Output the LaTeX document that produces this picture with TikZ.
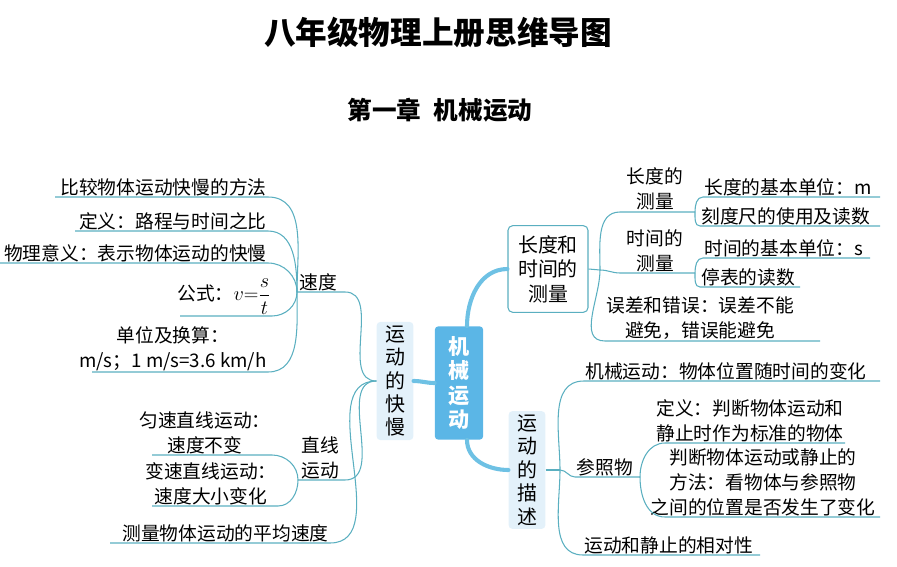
\documentclass[tikz,border=0pt]{standalone}
\usepackage{fontspec}
\usepackage{amsmath}
\setmainfont{Noto Sans CJK SC}
\usetikzlibrary{positioning,calc}
\definecolor{branch}{HTML}{5AAFC0}
\definecolor{thickblue}{HTML}{6EC1E4}
\definecolor{centerfill}{HTML}{5BB6E6}
\definecolor{boxfill}{HTML}{E3F1FA}

\begin{document}
\begin{tikzpicture}[x=0.03cm,y=-0.03cm,
      leaf/.style={inner sep=1pt,font=\fontsize{16}{21}\selectfont,align=center},
      leafL/.style={leaf,anchor=south east},
      leafR/.style={leaf,anchor=south west},
      br/.style={draw=branch,line width=0.9pt},
      thick branch/.style={draw=thickblue,line width=3.5pt,line cap=round},
      vbox/.style={rectangle,rounded corners=3pt,fill=boxfill,align=center,
        inner sep=3pt,font=\fontsize{17}{20}\selectfont},
    ]
    \useasboundingbox (0,0) rectangle (897,567);
    % Titles
    \node[font=\fontsize{27}{30}\selectfont\bfseries] (title) at (438,32) {八年级物理上册思维导图};
    \node[font=\fontsize{21}{24}\selectfont\bfseries] (chap) at (440,110) {第一章\enspace 机械运动};

    % Central and main boxes
    \node[rectangle,rounded corners=3pt,fill=centerfill,text=white,align=center,
      minimum width=1.45cm,minimum height=3.4cm,font=\fontsize{18}{21}\selectfont\bfseries]
      (center) at (459,383) {机\\械\\运\\动};
    \node[vbox,minimum width=1.1cm,minimum height=3.35cm] (speed) at (395,381) {运\\动\\的\\快\\慢};
    \node[rectangle,rounded corners=4pt,draw=branch,fill=white,align=center,line width=0.9pt,
      minimum width=2.4cm,minimum height=2.6cm,font=\fontsize{17}{21}\selectfont]
      (meas) at (548,269) {长度和\\时间的\\测量};
    \node[vbox,minimum width=1.1cm,minimum height=3.3cm] (desc) at (527,470) {运\\动\\的\\描\\述};

    \draw[thick branch] (center.west) to[out=180,in=0] (speed.east);
    \draw[thick branch] ($(center.north)+(8,0)$) to[out=90,in=180] (meas.west);
    \draw[thick branch] ($(center.south)+(8,0)$) to[out=-90,in=180] (desc.west);

    % Left: speed
    \node[leaf,anchor=south west] (sd) at (298,292) {速度};
    \draw[br] (speed.west) to[out=180,in=0] (345,292) -- (297,292);
    \coordinate (js) at (297,292);
    \node[leafL] (s1) at (268,197) {比较物体运动快慢的方法};
    \node[leafL] (s2) at (268,231) {定义：路程与时间之比};
    \node[leafL] (s3) at (268,263) {物理意义：表示物体运动的快慢};
    \node[leafL] (s4) at (272,316) {公式：$v{=}\dfrac{s}{t}$};
    \node[leafL] (s5) at (268,372) {单位及换算：\\m/s；1 m/s=3.6 km/h};
    \draw[br] (js) to[out=90,in=0] (s1.south east) -- (55,197);
    \draw[br] (js) to[out=90,in=0] (s2.south east) -- (75,231);
    \draw[br] (js) to[out=90,in=0] (s3.south east) -- (0,263);
    \draw[br] (js) to[out=-90,in=0] (s4.south east) -- (180,316);
    \draw[br] (js) to[out=-90,in=0] (s5.south east) -- (92,372);

    % Left: linear motion
    \node[leaf,anchor=south west] (lin) at (300,480) {直线\\运动};
    \draw[br] (speed.west) to[out=180,in=0] (345,480) -- (298,480);
    \coordinate (jl) at (298,480);
    \node[leafL] (l1) at (272,455) {匀速直线运动：\\速度不变};
    \node[leafL] (l2) at (278,506) {变速直线运动：\\速度大小变化};
    \draw[br] (jl) to[out=90,in=0] (l1.south east) -- (152,455);
    \draw[br] (jl) to[out=-90,in=0] (l2.south east) -- (152,506);
    \node[leafL] (avg) at (330,543) {测量物体运动的平均速度};
    \draw[br] (speed.west) to[out=180,in=0] (avg.south east) -- (110,543);

    % Right: measurement
    \coordinate (jm) at (600,270);
    \draw[br] (meas.east) -- (jm);
    \node[leaf] (len) at (655,189) {长度的\\测量};
    \node[leaf] (tim) at (655,251) {时间的\\测量};
    \node[leafR] (err) at (605,341) {误差和错误：误差不能\\避免，错误能避免};
    \draw[br] (jm) to[out=90,in=180] (620,212) -- (695,212);
    \draw[br] (jm) to[out=0,in=180] (620,273) -- (695,273);
    \draw[br] (jm) to[out=-90,in=180] (err.south west) -- (820,341);
    \coordinate (jlen) at (695,212);
    \coordinate (jtim) at (695,273);
    \node[leafR] (len1) at (703,197) {长度的基本单位：m};
    \node[leafR] (len2) at (700,226) {刻度尺的使用及读数};
    \node[leafR] (tim1) at (703,258) {时间的基本单位：s};
    \node[leafR] (tim2) at (700,287) {停表的读数};
    \draw[br] (jlen) to[out=90,in=180] (len1.south west) -- (880,197);
    \draw[br] (jlen) to[out=-90,in=180] (len2.south west) -- (880,226);
    \draw[br] (jtim) to[out=90,in=180] (tim1.south west) -- (870,258);
    \draw[br] (jtim) to[out=-90,in=180] (tim2.south west) -- (800,287);

    % Right: description
    \coordinate (jd) at (560,470);
    \draw[br] (desc.east) -- (jd);
    \node[leafR] (mech) at (584,381) {机械运动：物体位置随时间的变化};
    \node[leaf,anchor=south] (ref) at (605,477) {参照物};
    \node[leafR] (rel) at (583,555) {运动和静止的相对性};
    \draw[br] (jd) to[out=90,in=180] (mech.south west) -- (880,381);
    \draw[br] (jd) to[out=0,in=180] (575,477) -- (640,477);
    \draw[br] (jd) to[out=-90,in=180] (rel.south west) -- (760,555);
    \coordinate (jr) at (640,477);
    \node[leaf,anchor=south] (ref1) at (750,443) {定义：判断物体运动和\\静止时作为标准的物体};
    \node[leaf,anchor=south] (ref2) at (763,517) {判断物体运动或静止的\\方法：看物体与参照物\\之间的位置是否发生了变化};
    \draw[br] (jr) to[out=90,in=180] (665,443) -- (845,443);
    \draw[br] (jr) to[out=-90,in=180] (665,517) -- (880,517);
  \end{tikzpicture}
\end{document}
